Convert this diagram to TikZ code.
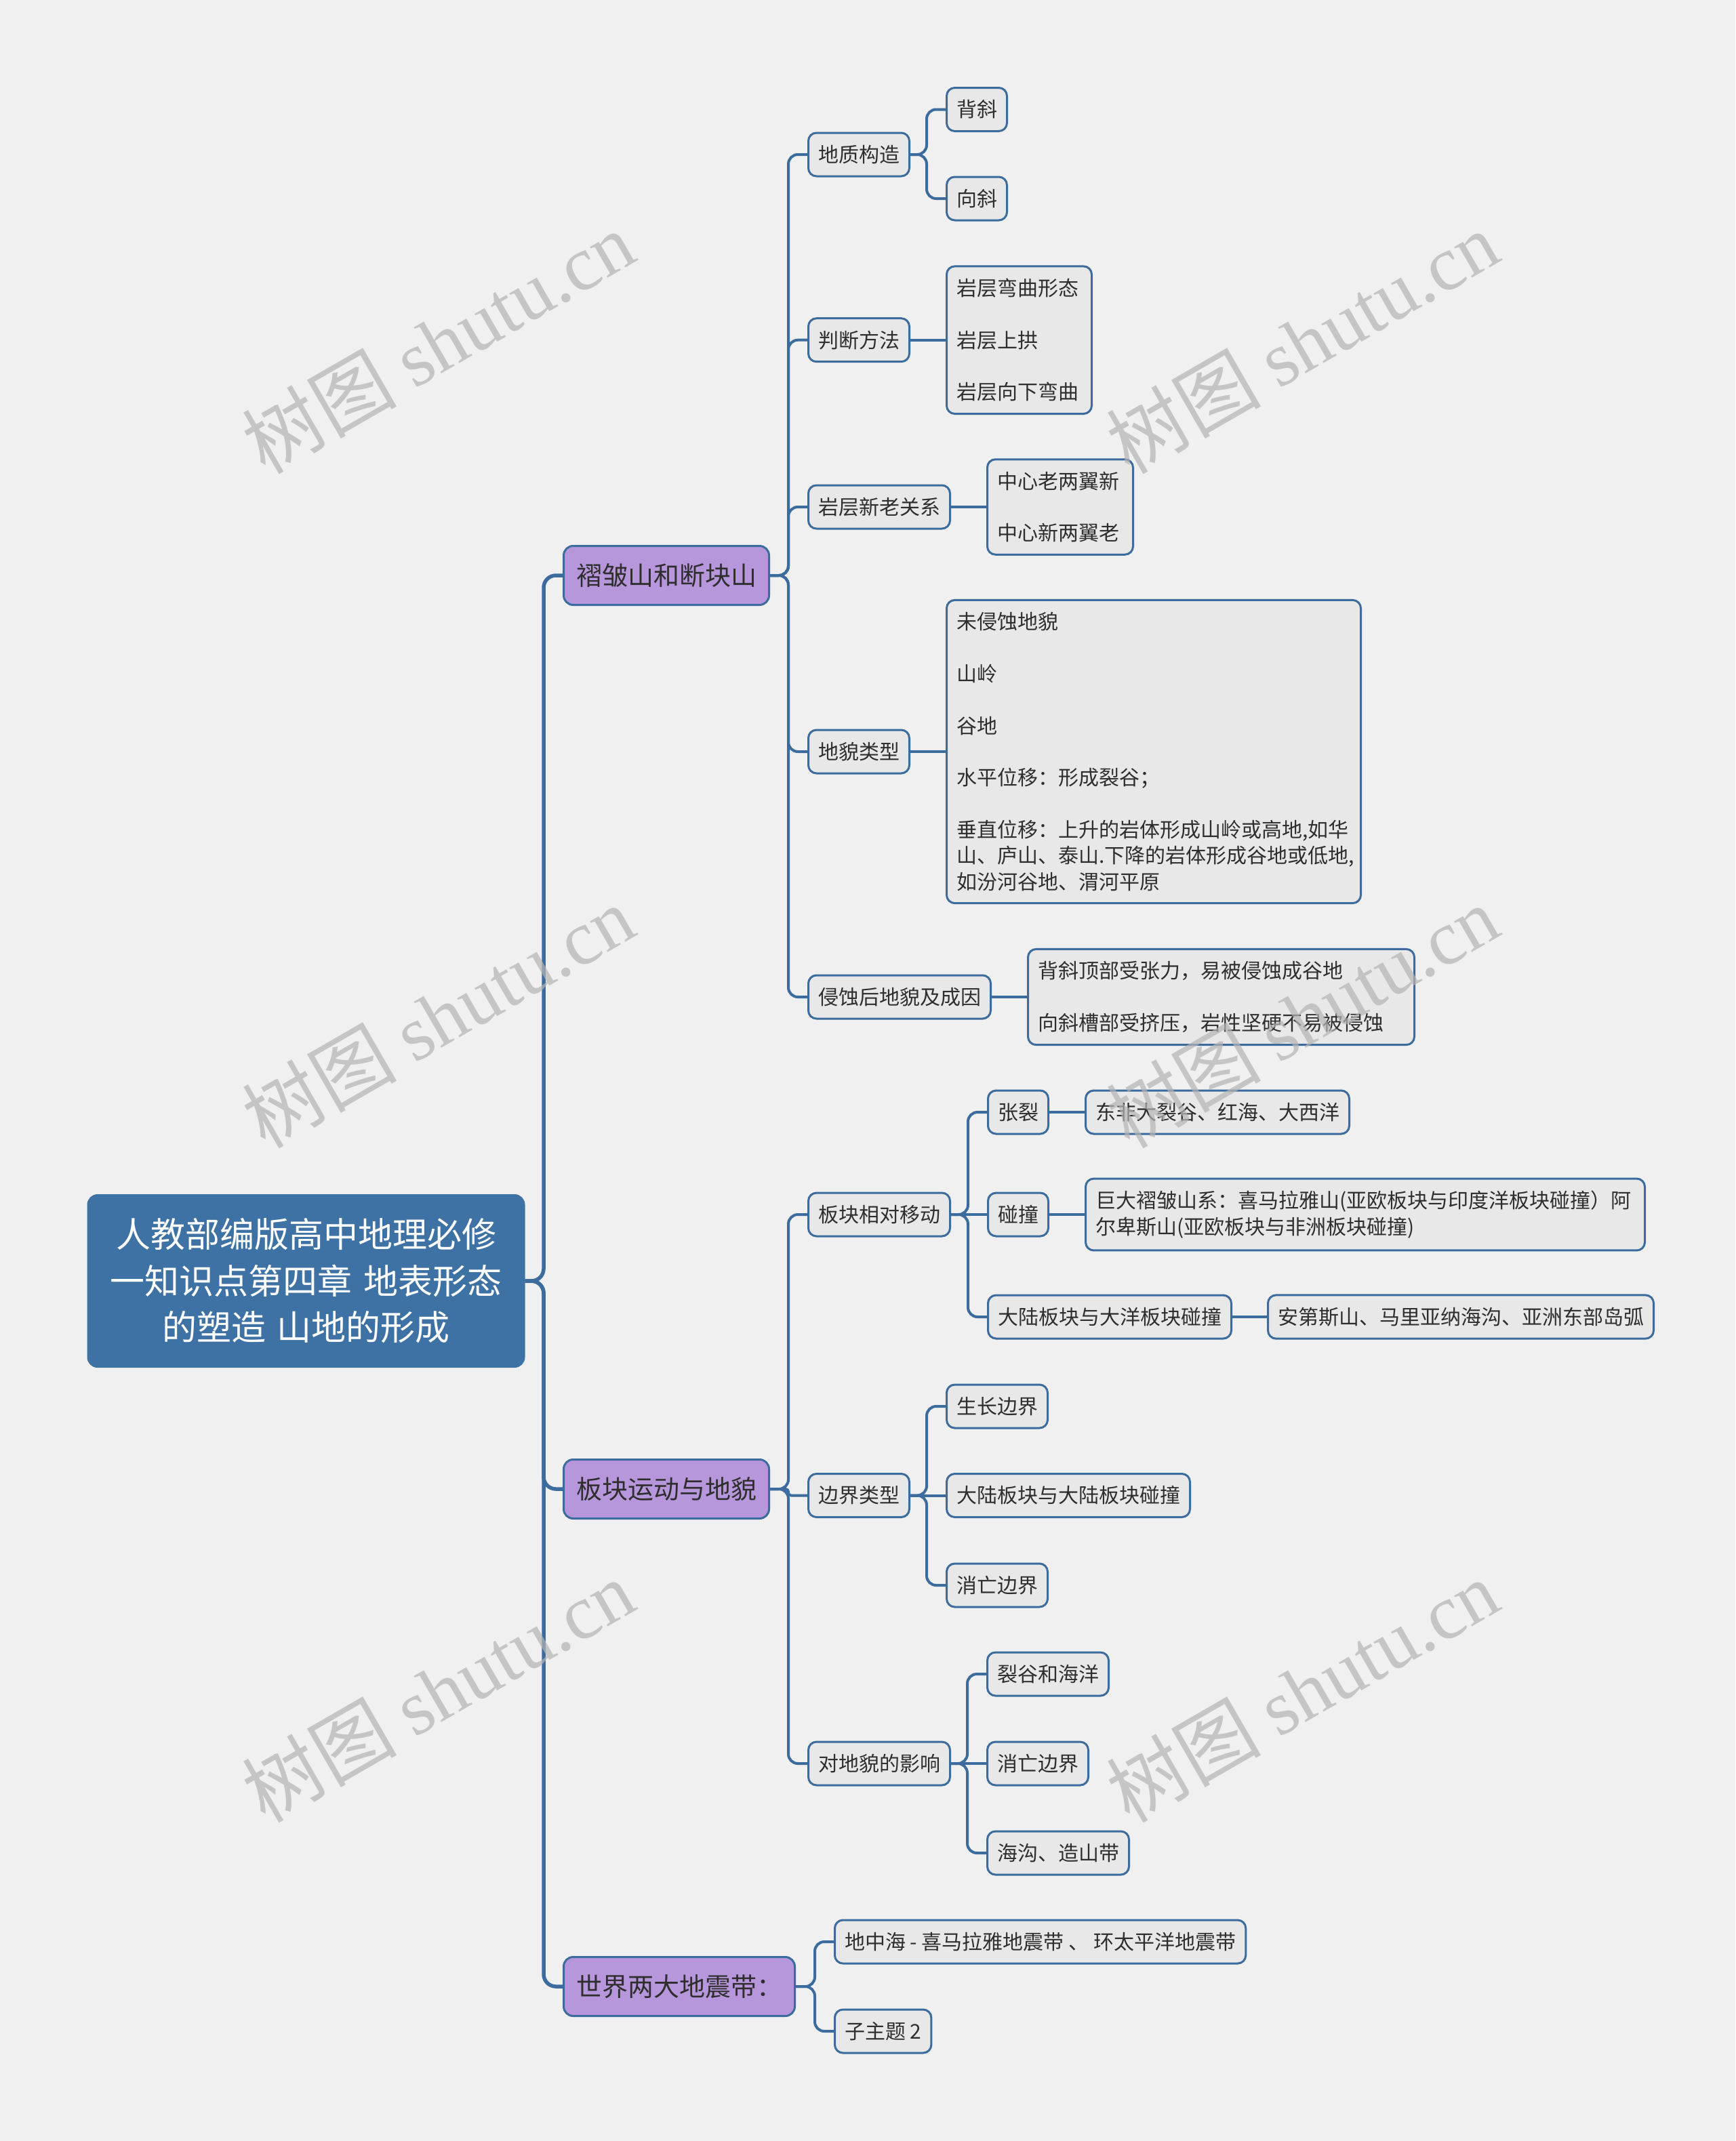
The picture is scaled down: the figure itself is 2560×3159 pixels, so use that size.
\documentclass[tikz,border=0pt]{standalone}
\usepackage{fontspec}
\setmainfont{Noto Sans CJK SC}
\newfontfamily\wmfont{Liberation Serif}
\definecolor{bg}{HTML}{F0F0F0}
\definecolor{rootc}{HTML}{3E72A4}
\definecolor{linec}{HTML}{3C6C9D}
\definecolor{purp}{HTML}{B697DB}
\definecolor{leaff}{HTML}{E8E8E8}
\definecolor{txt}{HTML}{2E2E2E}
\definecolor{wmc}{HTML}{B4B4B4}
\begin{document}
\begin{tikzpicture}[x=1pt,y=-1pt,
 rootnode/.style={draw=rootc, fill=rootc, line width=3pt, rounded corners=14pt, text=white,
   font=\fontsize{51pt}{68.5pt}\selectfont, align=center, text width=620pt,
   minimum width=643pt, minimum height=253pt, inner sep=0pt, anchor=west},
 topic/.style={draw=linec, fill=purp, line width=3pt, rounded corners=14pt, text=txt,
   font=\fontsize{38pt}{46pt}\selectfont, inner xsep=18.5pt, inner ysep=0pt,
   minimum height=87pt, anchor=west},
 leaf/.style={draw=linec, fill=leaff, line width=3pt, rounded corners=12pt, text=txt,
   font=\fontsize{30pt}{38.35pt}\selectfont, inner xsep=14.5pt, inner ysep=18pt,
   minimum height=64pt, anchor=west},
 textbox/.style={leaf, align=left, text width=#1},
 conn/.style={draw=linec, line width=4pt, rounded corners=14pt},
 mainconn/.style={conn, line width=5.5pt, rounded corners=18pt},
 wm/.style={text=wmc, opacity=0.7, font=\fontsize{114pt}{114pt}\selectfont, rotate=30, inner sep=0pt}
]
\useasboundingbox (0,0) rectangle (2560,3159);
\fill[bg] (0,0) rectangle (2560,3159);

% root
\node[rootnode] (root) at (128.5,1890) {人教部编版高中地理必修\\一知识点第四章 地表形态\\的塑造 山地的形成};

% main topics
\node[topic] (p1) at (830,849) {褶皱山和断块山};
\node[topic] (p2) at (830,2197) {板块运动与地貌};
\node[topic] (p3) at (830,2931) {世界两大地震带：};

% group 1
\node[leaf] (a1) at (1191,228) {地质构造};
\node[leaf] (a2) at (1191,501.7) {判断方法};
\node[leaf] (a3) at (1191,748) {岩层新老关系};
\node[leaf] (a4) at (1191,1109) {地貌类型};
\node[leaf] (a5) at (1191,1471) {侵蚀后地貌及成因};

\node[leaf] (a11) at (1395,161.5) {背斜};
\node[leaf] (a12) at (1395,293) {向斜};
\node[textbox=185pt] (a21) at (1395,501.7) {岩层弯曲形态\\[38.35pt]岩层上拱\\[38.35pt]岩层向下弯曲};
\node[textbox=186pt] (a31) at (1455,748) {中心老两翼新\\[38.35pt]中心新两翼老};
\node[textbox=582pt] (a41) at (1395,1109) {未侵蚀地貌\\[38.35pt]山岭\\[38.35pt]谷地\\[38.35pt]水平位移：形成裂谷；\\[38.35pt]垂直位移：上升的岩体形成山岭或高地,如华\\山、庐山、泰山.下降的岩体形成谷地或低地,\\如汾河谷地、渭河平原};
\node[textbox=541pt] (a51) at (1515,1471) {背斜顶部受张力，易被侵蚀成谷地\\[38.35pt]向斜槽部受挤压，岩性坚硬不易被侵蚀};

% group 2
\node[leaf] (b1) at (1191,1792) {板块相对移动};
\node[leaf] (b2) at (1191,2206.5) {边界类型};
\node[leaf] (b3) at (1191,2602) {对地貌的影响};

\node[leaf] (b11) at (1456,1641) {张裂};
\node[leaf] (b12) at (1456,1792) {碰撞};
\node[leaf] (b13) at (1456,1943) {大陆板块与大洋板块碰撞};
\node[leaf] (b111) at (1600,1641) {东非大裂谷、红海、大西洋};
\node[textbox=796pt] (b121) at (1600,1792) {巨大褶皱山系：喜马拉雅山(亚欧板块与印度洋板块碰撞）阿\\尔卑斯山(亚欧板块与非洲板块碰撞)};
\node[leaf] (b131) at (1869,1943) {安第斯山、马里亚纳海沟、亚洲东部岛弧};

\node[leaf] (b21) at (1395,2075) {生长边界};
\node[leaf] (b22) at (1395,2206.5) {大陆板块与大陆板块碰撞};
\node[leaf] (b23) at (1395,2339) {消亡边界};

\node[leaf] (b31) at (1455,2470) {裂谷和海洋};
\node[leaf] (b32) at (1455,2602) {消亡边界};
\node[leaf] (b33) at (1455,2734) {海沟、造山带};

% group 3
\node[leaf] (c1) at (1230,2865) {地中海 - 喜马拉雅地震带 、 环太平洋地震带};
\node[leaf] (c2) at (1230,2997) {子主题 2};

% connectors: root to topics
\foreach \t in {p1,p3}
  \draw[mainconn] (root.east) -| ([xshift=-28pt]\t.west) -- (\t.west);
\draw[mainconn] (root.east) -| ([xshift=-28pt]p2.west) -- (p2.west);

% topic 1
\foreach \t in {a1,a2,a3,a4,a5}
  \draw[conn] (p1.east) -| ([xshift=-28pt]\t.west) -- (\t.west);
\foreach \t in {a11,a12}
  \draw[conn] (a1.east) -| ([xshift=-28pt]\t.west) -- (\t.west);
\draw[conn] (a2.east) -- (a21.west);
\draw[conn] (a3.east) -- (a31.west);
\draw[conn] (a4.east) -- (a41.west);
\draw[conn] (a5.east) -- (a51.west);

% topic 2
\foreach \t in {b1,b3}
  \draw[conn] (p2.east) -| ([xshift=-28pt]\t.west) -- (\t.west);
\draw[conn, rounded corners=4pt] (p2.east) -| ([xshift=-28pt]b2.west) -- (b2.west);
\foreach \t in {b11,b13}
  \draw[conn] (b1.east) -| ([xshift=-28pt]\t.west) -- (\t.west);
\draw[conn] (b1.east) -- (b12.west);
\draw[conn] (b11.east) -- (b111.west);
\draw[conn] (b12.east) -- (b121.west);
\draw[conn] (b13.east) -- (b131.west);
\foreach \t in {b21,b23}
  \draw[conn] (b2.east) -| ([xshift=-28pt]\t.west) -- (\t.west);
\draw[conn] (b2.east) -- (b22.west);
\foreach \t in {b31,b33}
  \draw[conn] (b3.east) -| ([xshift=-28pt]\t.west) -- (\t.west);
\draw[conn] (b3.east) -- (b32.west);

% topic 3
\foreach \t in {c1,c2}
  \draw[conn] (p3.east) -| ([xshift=-28pt]\t.west) -- (\t.west);

% watermarks
\node[wm] (w1) at (646,505) {树图 {\wmfont shutu.cn}};
\node[wm] (w2) at (1921,505) {树图 {\wmfont shutu.cn}};
\node[wm] (w3) at (646,1500) {树图 {\wmfont shutu.cn}};
\node[wm] (w4) at (1921,1500) {树图 {\wmfont shutu.cn}};
\node[wm] (w5) at (646,2495) {树图 {\wmfont shutu.cn}};
\node[wm] (w6) at (1921,2495) {树图 {\wmfont shutu.cn}};
\end{tikzpicture}
\end{document}
